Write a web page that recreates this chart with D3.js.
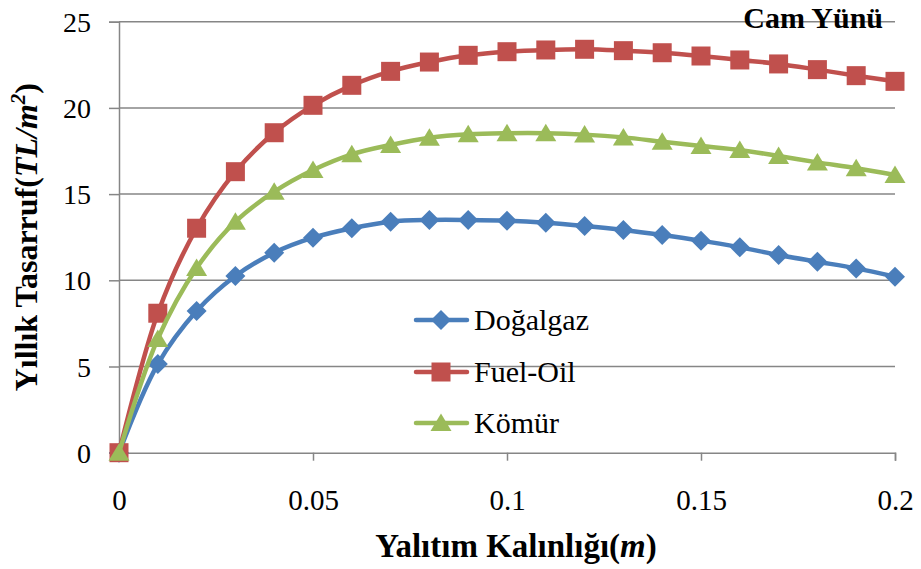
<!DOCTYPE html>
<html>
<head>
<meta charset="utf-8">
<script src="https://cdn.jsdelivr.net/npm/d3@7"></script>
<style>
  body { margin: 0; background: #fff; font-family: "Times New Roman", "Liberation Serif", serif; }
  #chart text { font-family: "Times New Roman", "Liberation Serif", Tinos, serif; }
</style>
</head>
<body>
<svg id="chart" width="921" height="569" style="display:block"></svg>
<script>
// Insulation thickness (m)
const thickness = [0, 0.01, 0.02, 0.03, 0.04, 0.05, 0.06, 0.07, 0.08, 0.09, 0.10,
                   0.11, 0.12, 0.13, 0.14, 0.15, 0.16, 0.17, 0.18, 0.19, 0.20];
// Annual savings (TL/m²) per fuel type
const dogalgaz = [0, 5.14, 8.22, 10.25, 11.60, 12.47, 13.02, 13.40, 13.50, 13.50, 13.46,
                  13.34, 13.15, 12.92, 12.63, 12.30, 11.91, 11.47, 11.08, 10.69, 10.21];
const fuelOil  = [0, 8.09, 13.02, 16.30, 18.56, 20.15, 21.31, 22.12, 22.66, 23.05, 23.26,
                  23.36, 23.40, 23.32, 23.20, 23.01, 22.78, 22.55, 22.22, 21.87, 21.54];
const komur    = [0, 6.60, 10.71, 13.40, 15.14, 16.40, 17.31, 17.85, 18.27, 18.47, 18.53,
                  18.53, 18.45, 18.29, 18.04, 17.79, 17.56, 17.21, 16.84, 16.50, 16.11];
const seriesNames = ["Doğalgaz", "Fuel-Oil", "Kömür"];
const xTicks = [0, 0.05, 0.1, 0.15, 0.2];
const yTicks = [0, 5, 10, 15, 20, 25];

const svg = d3.select("#chart");
const x = d3.scaleLinear().domain([0, 0.2]).range([119, 895]);
const y = d3.scaleLinear().domain([0, 25]).range([452.7, 21.7]);

const gridColor = "#868686";

// Horizontal gridlines
svg.append("g").selectAll("line").data(yTicks.slice(1)).join("line")
  .attr("x1", x(0)).attr("x2", x(0.2))
  .attr("y1", d => y(d)).attr("y2", d => y(d))
  .attr("stroke", gridColor).attr("stroke-width", 1.5);

// Y axis
const yAxis = svg.append("g").attr("transform", `translate(${x(0)},0)`)
  .call(d3.axisLeft(y).tickValues(yTicks).tickSize(10).tickPadding(18).tickFormat(d3.format("d")))
  .attr("font-family", null).attr("font-size", 28);
yAxis.select(".domain").attr("stroke", gridColor).attr("stroke-width", 1.5);
yAxis.selectAll(".tick line").attr("stroke", gridColor).attr("stroke-width", 1.5);
yAxis.selectAll(".tick text").attr("fill", "#000").attr("dy", "0.34em");

// X axis
const xAxis = svg.append("g").attr("transform", `translate(0,${y(0)})`)
  .call(d3.axisBottom(x).tickValues(xTicks).tickSize(8).tickPadding(0).tickFormat(d => d3.format("")(d)))
  .attr("font-family", null).attr("font-size", 29);
xAxis.select(".domain").attr("stroke", gridColor).attr("stroke-width", 1.5);
xAxis.selectAll(".tick line").attr("stroke", gridColor).attr("stroke-width", 1.5);
xAxis.selectAll(".tick text").attr("fill", "#000").attr("dy", null).attr("y", 57);

// Series
const colors = ["#4A7EBB", "#C0504D", "#9BBB59"];
const allSeries = [dogalgaz, fuelOil, komur];
const line = d3.line()
  .x((d, i) => x(thickness[i]))
  .y(d => y(d))
  .curve(d3.curveCatmullRom.alpha(0.5));

function marker(sel, k, size) {
  if (k === 0) {
    sel.append("path").attr("d", `M0,${-size}L${size},0L0,${size}L${-size},0Z`);
  } else if (k === 1) {
    sel.append("rect").attr("x", -size).attr("y", -size).attr("width", 2 * size).attr("height", 2 * size);
  } else {
    sel.append("path").attr("d", `M0,${-size * 0.95}L${size * 1.05},${size * 0.8}L${-size * 1.05},${size * 0.8}Z`);
  }
}

allSeries.forEach((vals, k) => {
  const g = svg.append("g").attr("fill", colors[k]);
  g.append("path").datum(vals)
    .attr("d", line)
    .attr("fill", "none").attr("stroke", colors[k]).attr("stroke-width", 4.5)
    .attr("stroke-linejoin", "round").attr("stroke-linecap", "round");
  vals.forEach((v, i) => {
    const m = g.append("g").attr("transform", `translate(${x(thickness[i])},${y(v)})`);
    marker(m, k, k === 1 ? 9.5 : 10);
  });
});

// Legend
const legendY = [320, 372, 423];
seriesNames.forEach((name, k) => {
  const g = svg.append("g").attr("transform", `translate(0,${legendY[k]})`).attr("fill", colors[k]);
  g.append("line").attr("x1", 416).attr("x2", 467).attr("y1", 0).attr("y2", 0)
    .attr("stroke", colors[k]).attr("stroke-width", 4.5).attr("stroke-linecap", "round");
  const m = g.append("g").attr("transform", "translate(441,0)");
  marker(m, k, k === 1 ? 9.5 : 10);
  g.append("text").attr("x", 474).attr("y", 10).attr("fill", "#000")
    .attr("font-size", 30).text(name);
});

// Corner label
svg.append("text").attr("x", 883).attr("y", 28).attr("text-anchor", "end")
  .attr("font-weight", "bold").attr("font-size", 30)
  .attr("fill", "#000").text("Cam Yünü");

// X axis title
const xt = svg.append("text").attr("x", 516).attr("y", 557).attr("text-anchor", "middle")
  .attr("font-weight", "bold").attr("font-size", 33).attr("fill", "#000");
xt.append("tspan").text("Yalıtım Kalınlığı(");
xt.append("tspan").attr("font-style", "italic").text("m");
xt.append("tspan").text(")");

// Y axis title
const yt = svg.append("text").attr("transform", `translate(37,${y(12.5)}) rotate(-90)`)
  .attr("text-anchor", "middle")
  .attr("font-weight", "bold").attr("font-size", 32).attr("fill", "#000");
yt.append("tspan").text("Yıllık Tasarruf(");
yt.append("tspan").attr("font-style", "italic").text("TL/m");
yt.append("tspan").attr("font-style", "italic").attr("font-size", 21).attr("dy", -12).text("2");
yt.append("tspan").attr("dy", 12).text(")");
</script>
</body>
</html>
